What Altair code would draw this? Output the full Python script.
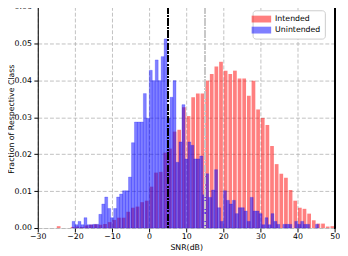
import altair as alt
import pandas as pd

# Histogram "Intended": 60 bins of 1.25 dB starting at -25 dB (bars drawn at 80% width)
red_start = -25.0
red_width = 1.25
red_frac = [
    0.0005, 0.0, 0.0, 0.0003, 0.0004, 0.0003, 0.0007, 0.0009, 0.0010, 0.0009,
    0.0011, 0.0016, 0.0022, 0.0028, 0.0028, 0.0044, 0.0055, 0.0058, 0.0070, 0.0074,
    0.0112, 0.0150, 0.0152, 0.0204, 0.0215, 0.0261, 0.0266, 0.0327, 0.0303, 0.0354,
    0.0364, 0.0364, 0.0399, 0.0417, 0.0437, 0.0450, 0.0426, 0.0417, 0.0426, 0.0405,
    0.0405, 0.0358, 0.0399, 0.0321, 0.0298, 0.0279, 0.0222, 0.0173, 0.0147, 0.0136,
    0.0103, 0.0074, 0.0055, 0.0052, 0.0039, 0.0021, 0.0012, 0.0012, 0.0004, 0.0005,
]

# Histogram "Unintended": 85 bins of 0.8 dB starting at -20.75 dB
blue_start = -20.75
blue_width = 0.8
blue_frac = [
    0.0018, 0.0009, 0.0018, 0.0009, 0.0028, 0.0009, 0.0009, 0.0010, 0.0010, 0.0037,
    0.0065, 0.0084, 0.0053, 0.0028, 0.0053, 0.0084, 0.0092, 0.0101, 0.0101, 0.0138,
    0.0231, 0.0287, 0.0287, 0.0287, 0.0364, 0.0297, 0.0427, 0.0399, 0.0455, 0.0399,
    0.0464, 0.0512, 0.0297, 0.0354, 0.0399, 0.0178, 0.0233, 0.0334, 0.0187, 0.0233,
    0.0224, 0.0187, 0.0187, 0.0195, 0.0090, 0.0147, 0.0083, 0.0103, 0.0158, 0.0055,
    0.0018, 0.0101, 0.0075, 0.0065, 0.0075, 0.0039, 0.0055, 0.0055, 0.0046, 0.0018,
    0.0083, 0.0046, 0.0046, 0.0039, 0.0009, 0.0028, 0.0009, 0.0039, 0.0018, 0.0010,
    0.0, 0.0010, 0.0010, 0.0010, 0.0, 0.0018, 0.0010, 0.0018, 0.0010, 0.0010,
    0.0, 0.0, 0.0010, 0.0, 0.0,
]

classes = ["Intended", "Unintended"]
class_colors = ["#FF0000", "#0000FF"]
threshold_db = 5
second_line_db = 15
right_edge_db = 50
x_ticks = [-30, -20, -10, 0, 10, 20, 30, 40, 50]
y_ticks = [0.0, 0.01, 0.02, 0.03, 0.04, 0.05, 0.06]

rows = []
for i, v in enumerate(red_frac):
    if v <= 0:
        continue
    c = red_start + red_width * (i + 0.5)
    half = red_width * 0.8 / 2
    rows.append({"cls": "Intended", "x0": c - half, "x1": c + half, "frac": v})
for i, v in enumerate(blue_frac):
    if v <= 0:
        continue
    s = blue_start + blue_width * i
    rows.append({"cls": "Unintended", "x0": s, "x1": s + blue_width, "frac": v})
df = pd.DataFrame(rows)

FONT = "DejaVu Sans"
W, H = 304, 227

xscale = alt.Scale(domain=[-30, 50], nice=False, zero=False)
yscale = alt.Scale(domain=[0, 0.06], nice=False, zero=True)

x_axis = alt.Axis(values=x_ticks, title="SNR(dB)", domain=False,
                  labelFlush=False, labelOverlap=False,
                  grid=True, gridDash=[4, 2], gridColor="#b0b0b0", gridWidth=0.8,
                  tickColor="black", tickSize=4, tickWidth=1,
                  labelFont=FONT, labelFontSize=8, labelColor="black", labelPadding=1,
                  titleFont=FONT, titleFontSize=8, titleFontWeight="normal",
                  titleColor="black", titleBaseline="top", titleY=16)

bars = alt.Chart(df).mark_rect(fillOpacity=0.5, strokeWidth=0.6, strokeOpacity=0.35).encode(
    x=alt.X("x0:Q", scale=xscale, axis=x_axis),
    x2="x1:Q",
    y=alt.Y("frac:Q", scale=yscale,
            axis=alt.Axis(values=y_ticks, format=".2f", title="Fraction of Respective Class",
                          labelFlush=False, labelOverlap=False,
                          domain=True, domainColor="black", domainWidth=1,
                          grid=True, gridDash=[4, 2], gridColor="#b0b0b0", gridWidth=0.8,
                          tickColor="black", tickSize=4, tickWidth=1,
                          labelFont=FONT, labelFontSize=8, labelColor="black", labelPadding=2.5,
                          titleFont=FONT, titleFontSize=8, titleFontWeight="normal",
                          titleColor="black", titleAngle=270, titleBaseline="middle",
                          titleAlign="center", titleX=-27, titleY=115)),
    y2=alt.datum(0),
    color=alt.Color("cls:N",
                    scale=alt.Scale(domain=classes, range=class_colors),
                    legend=alt.Legend(title=None, orient="none", legendX=220, legendY=4,
                                      fillColor="white", strokeColor="#cccccc",
                                      cornerRadius=3, padding=4,
                                      symbolType="M-2,-0.7H2V0.7H-2Z", symbolSize=100,
                                      symbolStrokeWidth=0, symbolOpacity=0.5,
                                      labelFont=FONT, labelFontSize=8, labelColor="black",
                                      labelOffset=9, rowPadding=2.3)),
    stroke=alt.condition("datum.cls == 'Unintended'", alt.value("#0000FF"),
                         alt.value("transparent")),
)

thr = alt.Chart(df).mark_rule(color="black", strokeWidth=1.2,
                              strokeDash=[7, 2, 1.5, 2]).encode(
    x=alt.X(datum=threshold_db, scale=xscale, axis=x_axis))
second = alt.Chart(df).mark_rule(color="#c8c8c8", strokeWidth=1.5,
                                 strokeDash=[7, 2, 1.5, 2]).encode(
    x=alt.X(datum=second_line_db, scale=xscale, axis=x_axis))
right_spine = alt.Chart(df).mark_rule(color="black", strokeWidth=1).encode(
    x=alt.X(datum=right_edge_db, scale=xscale, axis=x_axis))

chart = alt.layer(bars, thr, second, right_spine).properties(
    width=W, height=H,
    autosize=alt.AutoSizeParams(type="none"),
    padding={"left": 30.5, "top": -4.7, "right": 5.5, "bottom": 30},
).configure_view(stroke="#d8d8d8", strokeWidth=1).configure_axis(
    labelOverlap=False, labelFlush=False
).configure(background="white")

chart.save("out.html", embed_options={"renderer": "svg", "actions": False})
